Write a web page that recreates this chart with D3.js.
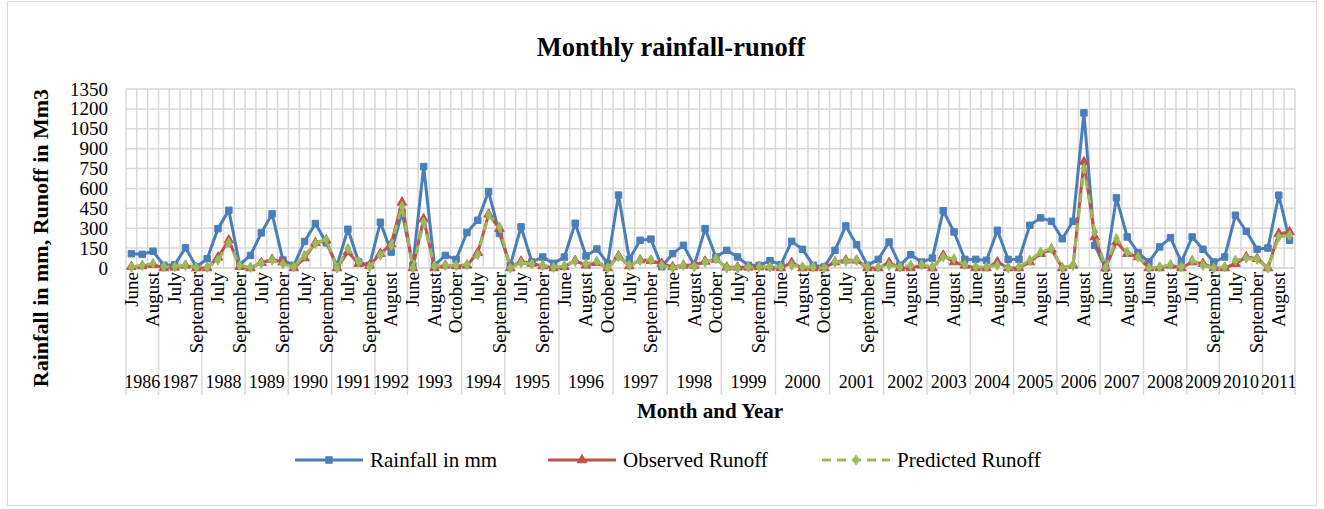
<!DOCTYPE html>
<html>
<head>
<meta charset="utf-8">
<script src="https://cdn.jsdelivr.net/npm/d3@7"></script>
<style>
  html, body { margin: 0; padding: 0; background: #fff; }
  svg { display: block; }
  text { font-family: "Liberation Serif", "Times New Roman", serif; fill: #000; }
</style>
</head>
<body>
<svg id="chart" width="1324" height="509"></svg>
<script>
// Season years and the months recorded in each one
const years = ["1986","1987","1988","1989","1990","1991","1992","1993","1994","1995","1996","1997","1998",
               "1999","2000","2001","2002","2003","2004","2005","2006","2007","2008","2009","2010","2011"];
const JJA  = ["June","July","August"];
const JJAS = ["June","July","August","September"];
const JASx = ["July","August","September"];
const JJASO = ["June","July","August","September","October"];
const yearMonths = [JJA, JJAS, JJAS, JJAS, JJAS, JJAS, JASx, JJASO, JJAS, JJASO, JJASO, JJASO, JJASO,
                    JJASO, JJASO, JJASO, JJAS, JJAS, JJAS, JJAS, JJAS, JJAS, JJAS, JASx, JJAS, JASx];

// Rainfall (mm), one value per month in order
const rainfall = [108,103,126, 20,25,153,8, 70,297,435,25, 95,265,408,60, 20,200,335,190, 20,292,45,20,
  345,120,420, 20,765,20,95,65, 268,360,576,260, 20,310,45,83,35, 83,337,90,143,35,
  550,65,209,218,10, 108,171,20,297,83, 133,83,20,20,55, 25,201,141,20,8, 133,317,176,20,65,
  196,20,100,45, 75,432,272,65, 65,58,284,65, 65,322,378,352, 221,352,1170,171,
  0,529,234,116, 45,159,229,45, 234,141,45, 83,398,277,141, 151,549,209];

// Observed runoff (Mm3)
const observed = [10,15,25, 0,5,20,0, 0,80,210,10, 0,40,65,45, 0,75,190,209, 0,121,33,20,
  108,180,495, 0,370,0,20,15, 20,115,405,297, 0,50,35,15,0, 10,55,20,40,0,
  90,15,60,55,33, 8,20,20,50,65, 5,5,5,8,5, 0,40,0,0,0, 45,58,58,0,0,
  40,0,0,20, 0,95,45,20, 0,0,45,0, 0,45,108,141, 0,20,800,234,
  0,196,108,83, 0,0,20,0, 45,33,0, 0,33,83,70, 0,259,272];

// Predicted runoff (Mm3)
const predicted = [8,20,35, 10,10,20,5, 5,60,190,20, 5,35,60,30, 8,96,184,216, 0,146,45,8,
  96,171,465, 0,345,15,20,20, 25,100,400,310, 0,40,30,20,5, 15,50,30,50,0,
  85,20,58,62,20, 0,20,10,45,70, 0,0,8,8,8, 8,20,8,8,0, 45,50,58,8,8,
  20,8,20,25, 8,83,70,25, 8,8,20,0, 8,58,120,146, 0,20,750,272,
  0,221,120,83, 0,8,25,8, 58,20,0, 8,58,75,65, 0,234,247];

const yTicks = [0,150,300,450,600,750,900,1050,1200,1350];
const monthLabelEvery = 2;

const svg = d3.select("#chart");
const W = 1324, H = 509;
const plot = { left: 126, right: 1295, top: 89, bottom: 268 };
const axisBottom = 395;
const GRID = "#d9d9d9";

// Flatten the year/month hierarchy into categories
const cats = [];
years.forEach((y, yi) => yearMonths[yi].forEach(m => cats.push({ year: y, month: m })));
const idx = d3.range(cats.length);

const x = d3.scaleBand().domain(idx).range([plot.left, plot.right]).paddingInner(0).paddingOuter(0);
const y = d3.scaleLinear().domain([0, 1350]).range([plot.bottom, plot.top]);
const cx = i => x(i) + x.bandwidth() / 2;

// Chart frame
svg.append("rect").attr("x", 7.5).attr("y", 1.5).attr("width", W - 15).attr("height", H - 5)
  .attr("fill", "#fff").attr("stroke", GRID).attr("stroke-width", 1);

// Title
svg.append("text").attr("x", 671).attr("y", 56).attr("text-anchor", "middle")
  .style("font-size", "26.5px").style("font-weight", "bold").text("Monthly rainfall-runoff");

// Horizontal gridlines
svg.append("g").selectAll("line").data(yTicks).join("line")
  .attr("x1", plot.left).attr("x2", plot.right)
  .attr("y1", d => y(d)).attr("y2", d => y(d))
  .attr("stroke", GRID).attr("stroke-width", 1.5);

// Vertical gridlines at category boundaries
const bounds = idx.map(i => x(i)).concat([plot.right]);
svg.append("g").selectAll("line").data(bounds).join("line")
  .attr("x1", d => d).attr("x2", d => d)
  .attr("y1", plot.top).attr("y2", plot.bottom)
  .attr("stroke", GRID).attr("stroke-width", 1.5);

// Y axis tick labels
const yAxis = d3.axisLeft(y).tickValues(yTicks).tickFormat(d3.format("d")).tickSize(0).tickPadding(18);
const gy = svg.append("g").attr("transform", `translate(${plot.left},0)`).call(yAxis);
gy.select(".domain").remove();
gy.selectAll("text").style("font-size", "19px").style("font-family", "Liberation Serif, serif").attr("fill", "#000");

// Multi-level category axis: year group separators
let start = 0;
const groups = years.map((yr, yi) => {
  const g = { year: yr, s: start, e: start + yearMonths[yi].length - 1 };
  start += yearMonths[yi].length;
  return g;
});
const sepXs = [plot.left].concat(groups.map(g => x(g.e) + x.bandwidth()));
svg.append("g").selectAll("line").data(sepXs).join("line")
  .attr("x1", d => d).attr("x2", d => d)
  .attr("y1", plot.bottom).attr("y2", axisBottom)
  .attr("stroke", GRID).attr("stroke-width", 1.5);
// axis line
svg.append("line").attr("x1", plot.left).attr("x2", plot.right)
  .attr("y1", plot.bottom).attr("y2", plot.bottom).attr("stroke", GRID).attr("stroke-width", 1.5);

// Month labels (every other category)
svg.append("g").selectAll("text").data(idx.filter(i => i % monthLabelEvery === 0)).join("text")
  .attr("transform", i => `translate(${cx(i)},${plot.bottom + 4}) rotate(-90)`)
  .attr("text-anchor", "end").attr("dy", "0.33em")
  .style("font-size", "19px").text(i => cats[i].month);

// Year labels
svg.append("g").selectAll("text").data(groups).join("text")
  .attr("x", g => (x(g.s) + x(g.e) + x.bandwidth()) / 2).attr("y", 388)
  .attr("text-anchor", "middle").style("font-size", "18px").text(g => g.year);

// Axis titles
svg.append("text").attr("x", 710).attr("y", 418).attr("text-anchor", "middle")
  .style("font-size", "21px").style("font-weight", "bold").text("Month and Year");
svg.append("text").attr("transform", "translate(48,238) rotate(-90)").attr("text-anchor", "middle")
  .style("font-size", "22px").style("font-weight", "bold").text("Rainfall in mm, Runoff in Mm3");

// Series
const series = [
  { name: "Rainfall in mm", values: rainfall, color: "#4a7ebb", dash: null, marker: d3.symbolSquare, msize: 42 },
  { name: "Observed Runoff", values: observed, color: "#c0504d", dash: null, marker: d3.symbolTriangle, msize: 40 },
  { name: "Predicted Runoff", values: predicted, color: "#9bbb59", dash: "9,6", marker: d3.symbolDiamond, msize: 30 }
];

const line = d3.line().x((d, i) => cx(i)).y(d => y(d));
series.forEach(s => {
  const g = svg.append("g");
  g.append("path").datum(s.values).attr("d", line).attr("fill", "none")
    .attr("stroke", s.color).attr("stroke-width", 3).attr("stroke-linejoin", "round")
    .attr("stroke-dasharray", s.dash);
  g.selectAll("path.m").data(s.values).join("path").attr("class", "m")
    .attr("d", d3.symbol().type(s.marker).size(s.msize))
    .attr("transform", (d, i) => `translate(${cx(i)},${y(d)})`)
    .attr("fill", s.color).attr("stroke", s.color).attr("stroke-width", 1);
});

// Legend
const legendX = [295, 548, 822];
const lg = svg.append("g");
series.forEach((s, k) => {
  const x0 = legendX[k], ly = 460;
  lg.append("line").attr("x1", x0).attr("x2", x0 + 68).attr("y1", ly).attr("y2", ly)
    .attr("stroke", s.color).attr("stroke-width", 3).attr("stroke-dasharray", s.dash);
  lg.append("path").attr("d", d3.symbol().type(s.marker).size(s.msize))
    .attr("transform", `translate(${x0 + 34},${ly})`).attr("fill", s.color).attr("stroke", s.color);
  lg.append("text").attr("x", x0 + 75).attr("y", ly).attr("dy", "0.35em")
    .style("font-size", "21px").text(s.name);
});
</script>
</body>
</html>
